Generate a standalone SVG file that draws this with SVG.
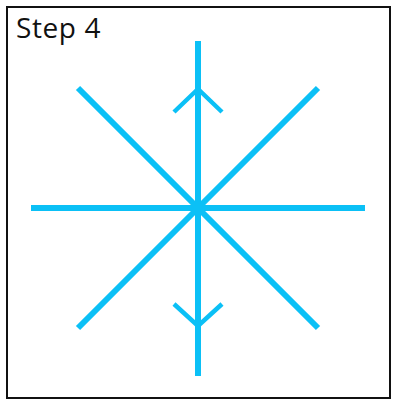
<svg xmlns="http://www.w3.org/2000/svg" width="400" height="408" viewBox="0 0 400 408">
<style>
.ln{stroke:#0BC0F6;stroke-width:6;fill:none}
.ar{stroke:#0BC0F6;stroke-width:4.5;fill:none}
.lbl{font-family:"Open Sans","DejaVu Sans",sans-serif;font-size:28px;letter-spacing:0.6px;fill:#111}
</style>
<rect x="7" y="7" width="383" height="391" fill="#fff" stroke="#111" stroke-width="2"/>
<text class="lbl" x="16" y="38">Step 4</text>
<g id="connectors">
<line class="ln" x1="198" y1="41" x2="198" y2="376"/>
<line class="ln" x1="31" y1="208" x2="365" y2="208"/>
<line class="ln" x1="78" y1="88" x2="318" y2="328"/>
<line class="ln" x1="318" y1="88" x2="78" y2="328"/>
<polyline class="ar" points="174,112 198,89 222,112"/>
<polyline class="ar" points="174,304 198,326 222,304"/>
</g>
</svg>
